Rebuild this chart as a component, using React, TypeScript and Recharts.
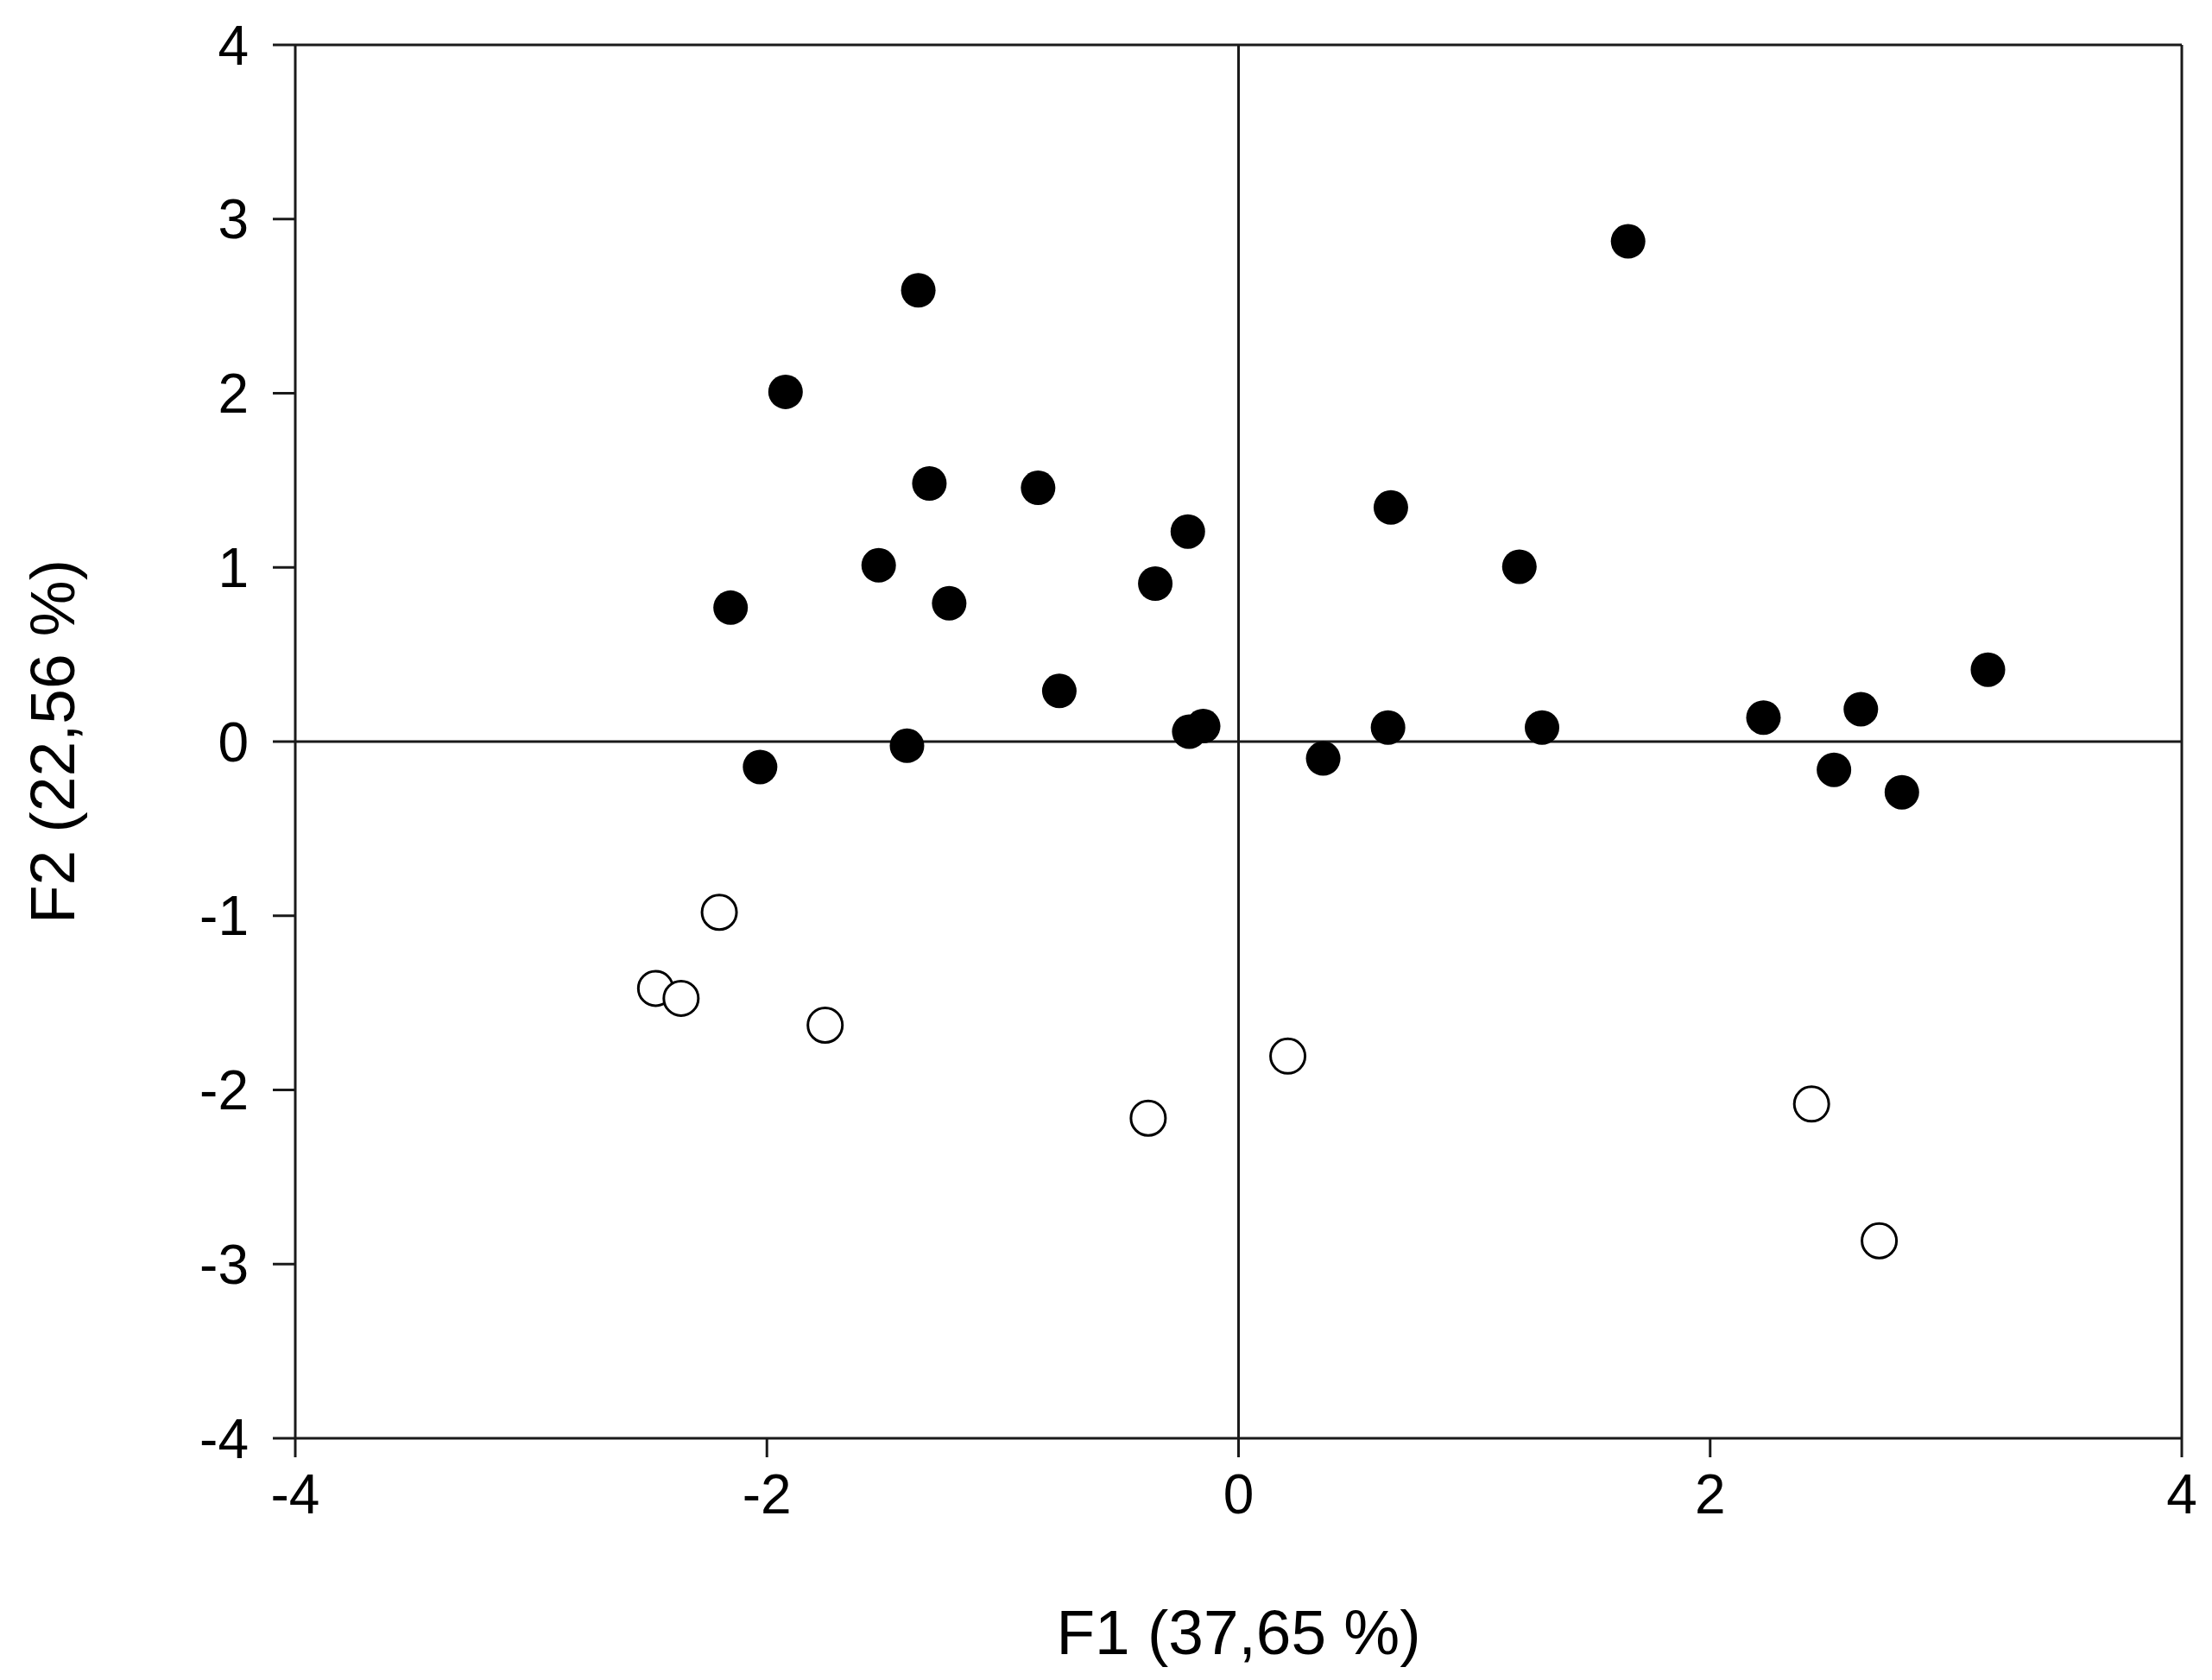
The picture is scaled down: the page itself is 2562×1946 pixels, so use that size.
import React from 'react';
import { ScatterChart, Scatter, XAxis, YAxis, ReferenceLine } from 'recharts';

const filledX = [1.652, -1.358, -1.921, -1.311, -0.85, -0.215, 0.646, 1.191, -1.526, -2.154, -1.227, -0.353, -0.76, -1.406, -2.029, -0.209, -0.15, 0.359, 0.634, 1.287, 2.226, 2.525, 2.639, 2.813, 3.178];
const filledY = [2.872, 2.591, 2.008, 1.482, 1.457, 1.206, 1.344, 1.004, 1.012, 0.769, 0.794, 0.907, 0.291, -0.024, -0.146, 0.057, 0.089, -0.097, 0.081, 0.081, 0.138, -0.162, 0.186, -0.291, 0.413];
const openX = [-2.202, -2.472, -2.364, -1.753, -0.383, 0.209, 2.43, 2.717];
const openY = [-0.98, -1.417, -1.474, -1.628, -2.162, -1.806, -2.081, -2.866];
const xTicks = [-4, -2, 0, 2, 4];
const yTicks = [-4, -3, -2, -1, 0, 1, 2, 3, 4];
const xTitle = 'F1 (37,65 %)';
const yTitle = 'F2 (22,56 %)';

const filledData = filledX.map((x, i) => ({ x, y: filledY[i] }));
const openData = openX.map((x, i) => ({ x, y: openY[i] }));

const FONT = '"Liberation Sans", Arial, sans-serif';
const INK = '#1a1a1a';

const FilledDot = (p: any) => <circle cx={p.cx} cy={p.cy} r={20} fill="#000" />;
const OpenDot = (p: any) => <circle cx={p.cx} cy={p.cy} r={20} fill="#fff" stroke="#000" strokeWidth={3} />;

const XTitle = (p: any) => {
  const vb = p.viewBox;
  return (
    <text x={vb.x + vb.width / 2} y={vb.y + 250} textAnchor="middle" fontSize={73} fontFamily={FONT} fill="#000">
      {xTitle}
    </text>
  );
};

const YTitle = (p: any) => {
  const vb = p.viewBox;
  const cx = 86;
  const cy = vb.y + vb.height / 2;
  return (
    <text x={cx} y={cy} transform={`rotate(-90 ${cx} ${cy})`} textAnchor="middle" fontSize={73} fontFamily={FONT} fill="#000">
      {yTitle}
    </text>
  );
};

export default function App() {
  return (
    <div style={{ position: 'absolute', left: 0, top: 0, background: '#fff' }}>
      <ScatterChart width={2562} height={1946} margin={{ top: 52, right: 35, left: 0, bottom: 0 }}>
        <XAxis
          type="number"
          dataKey="x"
          domain={[-4, 4]}
          ticks={xTicks}
          allowDataOverflow
          height={280}
          tickSize={22}
          tickMargin={20}
          stroke={INK}
          strokeWidth={3}
          tickLine={{ stroke: INK, strokeWidth: 3 }}
          tick={{ fontSize: 64, fontFamily: FONT, fill: '#000' }}
          label={<XTitle />}
        />
        <YAxis
          type="number"
          dataKey="y"
          domain={[-4, 4]}
          ticks={yTicks}
          allowDataOverflow
          width={342}
          tickSize={26}
          tickMargin={28}
          stroke={INK}
          strokeWidth={3}
          tickLine={{ stroke: INK, strokeWidth: 3 }}
          tick={{ fontSize: 64, fontFamily: FONT, fill: '#000' }}
          label={<YTitle />}
        />
        <ReferenceLine y={4} stroke={INK} strokeWidth={3} />
        <ReferenceLine x={4} stroke={INK} strokeWidth={3} />
        <ReferenceLine y={0} stroke={INK} strokeWidth={3} />
        <ReferenceLine x={0} stroke={INK} strokeWidth={3} />
        <Scatter data={filledData} shape={<FilledDot />} isAnimationActive={false} />
        <Scatter data={openData} shape={<OpenDot />} isAnimationActive={false} />
      </ScatterChart>
    </div>
  );
}
